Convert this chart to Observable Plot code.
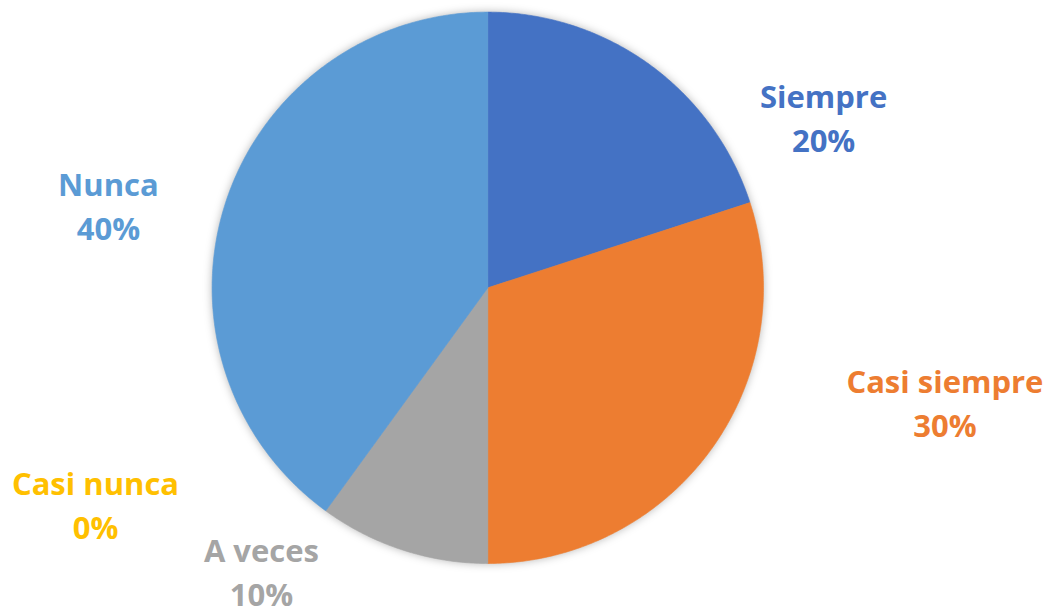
<!DOCTYPE html>
<html><head><meta charset="utf-8">
<script src="https://cdn.jsdelivr.net/npm/d3@7"></script>
<script src="https://cdn.jsdelivr.net/npm/@observablehq/plot@0.6"></script>
<style>body{margin:0;background:#fff} #chart{width:1051px;height:613px}</style>
</head><body><div id="chart"></div>
<script>
const categories = ["Siempre", "Casi siempre", "A veces", "Casi nunca", "Nunca"];
const percents = [20, 30, 10, 0, 40];
const colors = ["#4472C4", "#ED7D31", "#A5A5A5", "#FFC000", "#5B9BD5"];
// label layout: offset of each label from the pie centre, in pie radii
const labelDX = [1.218, 1.658, -0.821, -1.423, -1.376];
const labelDY = [-0.625, 0.412, 1.025, 0.779, -0.306];

const W = 1051, H = 613, cx = 487.3, cy = 287.3, R = 275.7;
const arcs = d3.pie().sort(null).value(d => d.value)(
  categories.map((c, i) => ({category: c, value: percents[i]}))
);
const slicePts = [];
arcs.forEach(a => {
  if (a.endAngle - a.startAngle <= 0) return;
  const n = Math.max(2, Math.ceil((a.endAngle - a.startAngle) / (Math.PI / 360)));
  const c = a.data.category;
  slicePts.push({category: c, x: 0, y: 0});
  for (let k = 0; k <= n; k++) {
    const t = a.startAngle + (a.endAngle - a.startAngle) * k / n;
    slicePts.push({category: c, x: Math.sin(t), y: -Math.cos(t)});
  }
  slicePts.push({category: c, x: 0, y: 0});
});
const labels = categories.map((c, i) => ({
  category: c, x: labelDX[i], y: labelDY[i], text: `${c}\n${percents[i]}%`
}));

const chart = Plot.plot({
  width: W, height: H, margin: 0,
  x: {domain: [-cx / R, (W - cx) / R], range: [0, W], axis: null},
  y: {domain: [-cy / R, (H - cy) / R], range: [0, H], axis: null},
  color: {domain: categories, range: colors},
  style: {background: "#fff"},
  marks: [
    Plot.line(slicePts, {x: "x", y: "y", z: "category", fill: "category", stroke: "category", strokeWidth: 0.6, curve: "linear"}),
    Plot.text(labels, {x: "x", y: "y", text: "text", fill: "category", fontSize: 31, fontWeight: "bold", lineHeight: 1.42, fontFamily: "Open Sans"})
  ]
});
const g = chart.querySelector('g[aria-label="line"]');
if (g) g.style.filter = "drop-shadow(0px 0px 4px rgba(0,0,0,0.28))";
document.getElementById("chart").appendChild(chart);
</script>
</body></html>
